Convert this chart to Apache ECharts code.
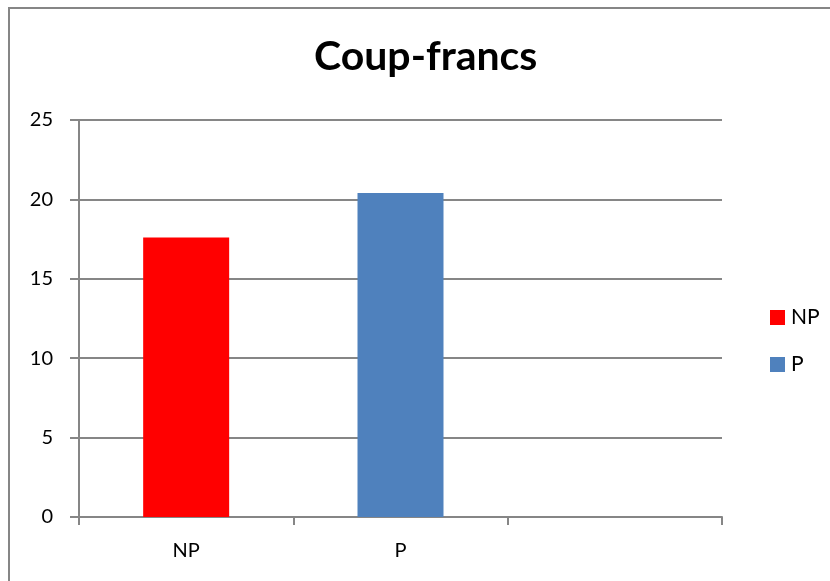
<!DOCTYPE html>
<html>
<head>
	<meta charset="UTF-8">
	<title>Coup-francs</title>
	<style>
		* { margin: 0; padding: 0; }
		body { background: #ffffff; }
		#charts { width: 830px; height: 581px; }
	</style>
</head>
<body>
	<div id="charts"></div>
	<script src="https://cdn.jsdelivr.net/npm/echarts@6/dist/echarts.min.js"></script>
	<script>
		// données
		var categories = ['NP', 'P', ''];
		var seriesNames = ['NP', 'P'];
		var valuesNP = [17.6, '-', '-'];
		var valuesP = ['-', 20.4, '-'];
		var yTicks = { min: 0, max: 25, interval: 5 };

		var font = 'Lato';
		var grey = '#868686';

		var mycharts = echarts.init(document.getElementById('charts'));
		var option = {
			animation: false,
			backgroundColor: '#ffffff',
			title: {
				text: 'Coup-francs',
				left: 309,
				top: 31,
				textStyle: { fontFamily: font, fontWeight: 'bold', fontSize: 41, color: '#000' }
			},
			// cadre du graphique (bords droit et bas hors image)
			graphic: [{
				type: 'rect',
				shape: { x: 9, y: 8, width: 900, height: 700 },
				style: { fill: 'none', stroke: grey, lineWidth: 2 },
				silent: true
			}],
			legend: {
				orient: 'vertical',
				left: 765,
				top: 302,
				icon: 'rect',
				itemWidth: 15,
				itemHeight: 15,
				itemGap: 26,
				textStyle: { fontFamily: font, fontSize: 21, color: '#000', padding: [0, 0, 0, 1] },
				data: seriesNames
			},
			grid: { left: 79, right: 108, top: 120, bottom: 64 },
			xAxis: {
				type: 'category',
				data: categories,
				axisLine: { lineStyle: { color: grey, width: 2 } },
				axisTick: { show: true, alignWithLabel: false, interval: 0, length: 8, lineStyle: { color: grey, width: 2 } },
				axisLabel: { margin: 24, fontFamily: font, fontSize: 20, color: '#000' }
			},
			yAxis: {
				type: 'value',
				min: yTicks.min,
				max: yTicks.max,
				interval: yTicks.interval,
				axisLine: { show: true, lineStyle: { color: grey, width: 2 } },
				axisTick: { show: true, length: 9, lineStyle: { color: grey, width: 2 } },
				splitLine: { lineStyle: { color: grey, width: 2 } },
				axisLabel: { margin: 26, fontFamily: font, fontSize: 20, color: '#000' }
			},
			series: [
				{
					name: 'NP',
					type: 'bar',
					data: valuesNP,
					barWidth: 86,
					barGap: '-100%',
					itemStyle: { color: '#ff0000' }
				},
				{
					name: 'P',
					type: 'bar',
					data: valuesP,
					barWidth: 86,
					itemStyle: { color: '#4f81bd' }
				}
			]
		};
		mycharts.setOption(option);
	</script>
</body>
</html>
